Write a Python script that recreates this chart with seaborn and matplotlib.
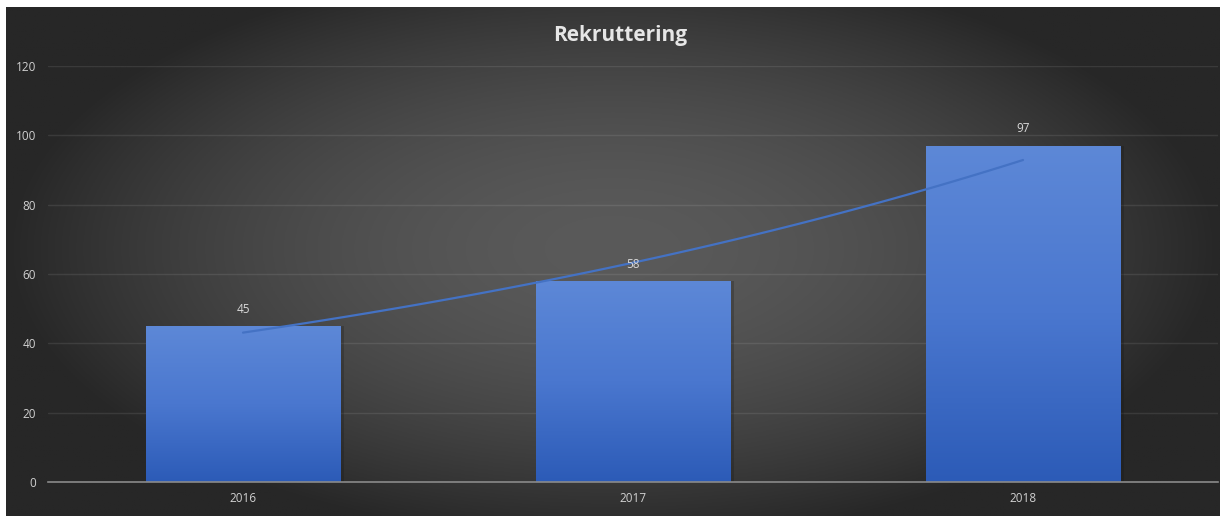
import numpy as np
import pandas as pd
import matplotlib
matplotlib.use("Agg")
import matplotlib.pyplot as plt
import seaborn as sns
from matplotlib.colors import LinearSegmentedColormap

years = ["2016", "2017", "2018"]
values = [45, 58, 97]
yticks = [0, 20, 40, 60, 80, 100, 120]
title = "Rekruttering"

sns.set_theme(style="white")
plt.rcParams['font.family'] = ['Open Sans', 'DejaVu Sans']

W, H = 1220, 516
fig = plt.figure(figsize=(W / 100, H / 100), dpi=100, facecolor="white")

# background radial gradient
bg = fig.add_axes([6 / W, 0, 1 - 6 / W, (H - 7) / H], zorder=-10)
nx, ny = 600, 260
xx, yy = np.meshgrid(np.linspace(-1, 1, nx), np.linspace(-1, 1, ny))
r = np.sqrt((xx / 1.0) ** 2 + ((yy + 0.05) / 1.15) ** 2)
r = np.clip(r, 0, 1)
inner = np.array([0x5a, 0x5a, 0x5a]) / 255
outer = np.array([0x27, 0x27, 0x27]) / 255
t = r[..., None] ** 1.8
img = inner * (1 - t) + outer * t
bg.imshow(img, aspect="auto", extent=[0, 1, 0, 1], origin="upper")
bg.set_axis_off()

ax = fig.add_axes([48 / W, 34 / H, 1170 / W, 416 / H])
ax.set_facecolor("none")

df = pd.DataFrame({"year": years, "value": values})
sns.barplot(data=df, x="year", y="value", ax=ax, width=0.5, color="#4472c4",
            saturation=1, zorder=3, linewidth=0, edgecolor="none")

cmap = LinearSegmentedColormap.from_list("bar", ["#2c5bb7", "#4a77cf", "#5d88d7"])
grad = np.linspace(0, 1, 256).reshape(-1, 1)
for p in ax.patches:
    x0, y0 = p.get_x(), p.get_y()
    w, h = p.get_width(), p.get_height()
    # subtle shadow at right
    ax.add_patch(plt.Rectangle((x0 + w, y0), 0.01, h, color="#151515", alpha=0.25,
                               zorder=2, lw=0))
    im = ax.imshow(grad, cmap=cmap, aspect="auto", extent=[x0, x0 + w, y0, y0 + h],
                   origin="lower", zorder=4)
    im.set_clip_path(p)
    ax.text(x0 + w / 2, h + 3, str(int(h)), ha="center", va="bottom",
            color="#d9d9d9", fontsize=8.5, zorder=6)

# exponential trendline fitted to the data
xs = np.arange(len(values)) + 1
coef = np.polyfit(xs, np.log(values), 1)
xd = np.linspace(1, len(values), 100)
trend = pd.DataFrame({"x": xd - 1, "y": np.exp(np.polyval(coef, xd))})
sns.lineplot(data=trend, x="x", y="y", ax=ax, color="#4472c4", lw=1.6, zorder=5)

ax.set_xlim(-0.5, 2.5)
ax.set_ylim(0, 120)
ax.set_yticks(yticks)
ax.set_yticklabels([str(v) for v in yticks])
ax.grid(axis="y", color="white", alpha=0.09, lw=1.0, zorder=0)
ax.set_axisbelow(True)
for s in ["top", "right", "left"]:
    ax.spines[s].set_visible(False)
ax.spines["bottom"].set_color("#8a8a8a")
ax.spines["bottom"].set_linewidth(1.2)
ax.spines["bottom"].set_zorder(6)
ax.tick_params(axis="both", length=0, colors="#d0d0d0", labelsize=8.5)
ax.tick_params(axis="y", pad=8.5)
ax.tick_params(axis="x", pad=7)
ax.set_xlabel("")
ax.set_ylabel("")

fig.text(620 / W, 1 - 35 / H, title, ha="center", va="center", color="#e6e6e6",
         fontsize=15, fontweight="bold")

fig.savefig("out.png", dpi=100, facecolor="white")
